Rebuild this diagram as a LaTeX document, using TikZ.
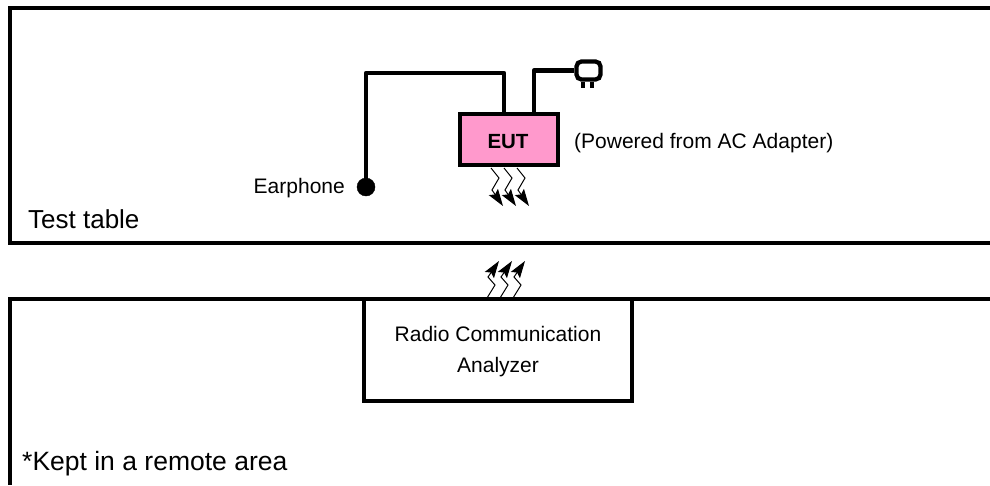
\documentclass[tikz,border=0pt]{standalone}
\usepackage{fontspec}
\usepackage{xcolor}
\setmainfont{Liberation Sans}
\usetikzlibrary{arrows.meta}
\definecolor{eutpink}{RGB}{255,153,204}
\tikzset{
  frameline/.style={line width=4pt,line cap=butt},
  wire/.style={line width=4.3pt,line join=round},
  zigzag/.style={line width=1pt,-{Stealth[length=17pt,width=11pt,inset=3pt]}},
  label/.style={inner sep=0pt,anchor=west},
}
\begin{document}
\begin{tikzpicture}[x=1pt,y=-1pt]
\useasboundingbox (0,0) rectangle (990,485);
\clip (0,0) rectangle (990,485);
% test table
\coordinate (tableTR) at (990,8);
\coordinate (tableBR) at (990,243);
\draw[frameline] (tableTR) -- (10,8) -- (10,243) -- (tableBR);
\node[label,font=\fontsize{26}{30}\selectfont] (table) at (28,219) {Test table};
% EUT and cables
\node[draw,fill=eutpink,line width=4pt,outer sep=0pt,minimum width=98pt,minimum height=51pt] (eut) at (509,139.5) {};
\node[inner sep=0pt,font=\fontsize{20.5}{24}\selectfont\bfseries] (euttext) at (508,142) {EUT};
\node[label,font=\fontsize{21}{25}\selectfont] (power) at (574,143) {(Powered from AC Adapter)};
\node[draw,fill=black,circle,inner sep=0pt,minimum size=18pt] (phone) at (366,187) {};
\node[label,anchor=east,font=\fontsize{21}{25}\selectfont] (phonetext) at (345,188) {Earphone};
\node[draw,line width=4.3pt,rounded corners=5pt,minimum width=24pt,minimum height=18pt,inner sep=0pt] (plug) at (588.5,70.5) {};
\coordinate (phonecorner) at (366,73);
\draw[wire] (phone.center) -- (phonecorner) -| ([xshift=-5pt]eut.north);
\draw[wire] ([xshift=25pt]eut.north) |- (plug.west);
\draw[line width=3.5pt] ([xshift=-5.5pt]plug.south) -- ++(0,6.5);
\draw[line width=3.5pt] ([xshift=3.5pt]plug.south) -- ++(0,6.5);
% radio waves
\foreach \i in {0,1,2} {
  \draw[zigzag] (491+13*\i,168) -- (499+13*\i,178) -- (492+13*\i,190) -- (503+13*\i,206);
  \draw[zigzag] (487+13*\i,298) -- (495+13*\i,285) -- (488+13*\i,277) -- (499+13*\i,261);
}
% remote area
\coordinate (remoteTR) at (990,299);
\coordinate (remoteBL) at (10,485);
\draw[frameline] (remoteTR) -- (10,299) -- (remoteBL);
\node[draw,fill=white,line width=4pt,outer sep=0pt,minimum width=268pt,minimum height=102pt] (analyzer) at (498,350) {};
\node[inner sep=0pt,align=center,font=\fontsize{21}{31}\selectfont] (analyzertext) at (498,352) {Radio Communication\\Analyzer};
\node[label,font=\fontsize{26.5}{30}\selectfont] (remote) at (22,464) {*Kept in a remote area};
\end{tikzpicture}
\end{document}
